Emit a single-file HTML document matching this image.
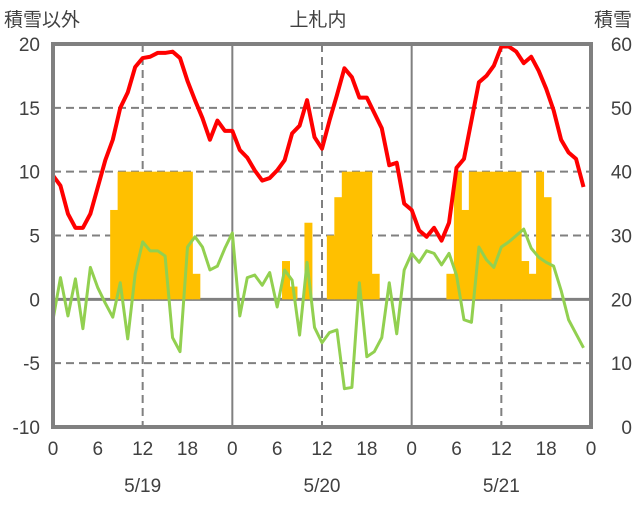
<!DOCTYPE html>
<html><head><meta charset="utf-8"><style>
body{margin:0;background:#fff;}
svg text{font-family:"Liberation Sans","Noto Sans CJK JP",sans-serif;fill:#404040;}
</style></head><body>
<svg id="c" width="636" height="501">
<text x="4" y="26" font-size="19">積雪以外</text>
<text x="318" y="26" font-size="19" text-anchor="middle">上札内</text>
<text x="632" y="26" font-size="19" text-anchor="end">積雪</text>
<g id="grid"></g><g id="bars"></g><g id="lines"></g><g id="labels"></g>
</svg>
<script>
const leftTicks=[20,15,10,5,0,-5,-10];
const rightTicks=[60,50,40,30,20,10,0];
const hourTicks=[0,6,12,18];
const dates=["5/19","5/20","5/21"];
const temp=[9.7,8.9,6.7,5.6,5.6,6.7,8.8,10.9,12.5,15.0,16.2,18.2,18.9,19.0,19.3,19.3,19.4,18.9,17.1,15.6,14.2,12.5,14.0,13.2,
13.2,11.7,11.1,10.1,9.3,9.5,10.1,10.9,13.0,13.6,15.6,12.7,11.8,14.0,16.0,18.1,17.4,15.8,15.8,14.6,13.4,10.5,10.7,7.5,
7.0,5.4,4.9,5.6,4.6,6.0,10.3,11.0,14.0,17.0,17.5,18.3,19.8,19.8,19.4,18.5,19.0,17.9,16.5,14.8,12.5,11.5,11.0,8.8];
const other=[-1.6,1.7,-1.3,1.6,-2.3,2.5,0.9,-0.3,-1.4,1.3,-3.1,2.0,4.5,3.8,3.8,3.4,-3.0,-4.1,4.1,4.9,4.1,2.3,2.6,4.0,
5.2,-1.3,1.7,1.9,1.1,2.1,-0.6,2.3,1.5,-2.8,2.9,-2.2,-3.4,-2.6,-2.4,-7.0,-6.9,1.3,-4.5,-4.1,-3.0,1.3,-2.7,2.3,
3.6,2.9,3.8,3.6,2.7,3.6,1.9,-1.6,-1.8,4.1,3.1,2.5,4.1,4.5,5.0,5.5,4.0,3.3,2.9,2.6,0.7,-1.6,-2.7,-3.8];
const snowHours=[8,9,10,11,12,13,14,15,16,17,18,19, 31,32,34, 37,38,39,40,41,42,43, 53,54,55,56,57,58,59,60,61,62,63,64,65,66];
const snowVals=[7,10,10,10,10,10,10,10,10,10,10,2, 3,1,6, 5,8,10,10,10,10,2, 2,10,7,10,10,10,10,10,10,10,3,2,10,8];
const X0=53,X1=591,Y0=44,Y1=427,NH=72;
const x=h=>X0+(X1-X0)*h/NH;
const y=v=>Y0+(Y1-Y0)*(20-v)/30;
const yr=v=>Y0+(Y1-Y0)*(60-v)/60;
const NS="http://www.w3.org/2000/svg";
function mk(p,t,a){const e=document.createElementNS(NS,t);for(const k in a)e.setAttribute(k,a[k]);p.appendChild(e);return e;}
const grid=document.getElementById('grid'),bars=document.getElementById('bars'),lines=document.getElementById('lines'),labels=document.getElementById('labels');
leftTicks.forEach(v=>{if(v!==20&&v!==-10&&v!==0){const l=mk(grid,'line',{x1:X0,x2:X1,y1:y(v),y2:y(v),stroke:'#808080','stroke-width':2,'stroke-dasharray':'8,5'});

}});
for(let d=0;d<3;d++){const l=mk(grid,'line',{x1:x(d*24+12),x2:x(d*24+12),y1:Y0,y2:Y1,stroke:'#808080','stroke-width':2,'stroke-dasharray':'8,5'});


if(d>0){const m=mk(grid,'line',{x1:x(d*24),x2:x(d*24),y1:Y0,y2:Y1,stroke:'#808080','stroke-width':2});

}}
snowHours.forEach((h,i)=>{const v=snowVals[i];const r=mk(bars,'rect',{x:x(h-0.35),width:x(1)-X0+0.5,y:y(v),height:y(0)-y(v),fill:'#ffc000'});

});
const z=mk(grid,'line',{x1:X0,x2:X1,y1:y(0),y2:y(0),stroke:'#808080','stroke-width':3});


const gp=mk(lines,'polyline',{points:other.map((v,i)=>x(i)+','+y(v)).join(' '),fill:'none',stroke:'#92d050','stroke-width':3,'stroke-linejoin':'round'});


const rp=mk(lines,'polyline',{points:temp.map((v,i)=>x(i)+','+y(v)).join(' '),fill:'none',stroke:'#ff0000','stroke-width':4,'stroke-linejoin':'round'});


const fr=mk(lines,'rect',{x:X0,y:Y0,width:X1-X0,height:Y1-Y0,fill:'none',stroke:'#808080','stroke-width':4});


leftTicks.forEach(v=>{const t=mk(labels,'text',{x:40,y:y(v)+7,'font-size':19,'text-anchor':'end'});t.textContent=v;

});
rightTicks.forEach(v=>{const t=mk(labels,'text',{x:632,y:yr(v)+7,'font-size':19,'text-anchor':'end'});t.textContent=v;

});
for(let d=0;d<=3;d++){hourTicks.forEach(h=>{if(d===3&&h>0)return;const t=mk(labels,'text',{x:x(d*24+h),y:455,'font-size':19,'text-anchor':'middle'});t.textContent=h;

});}
dates.forEach((s,d)=>{const t=mk(labels,'text',{x:x(d*24+12),y:492,'font-size':19,'text-anchor':'middle'});t.textContent=s;

});
</script>
</body></html>
